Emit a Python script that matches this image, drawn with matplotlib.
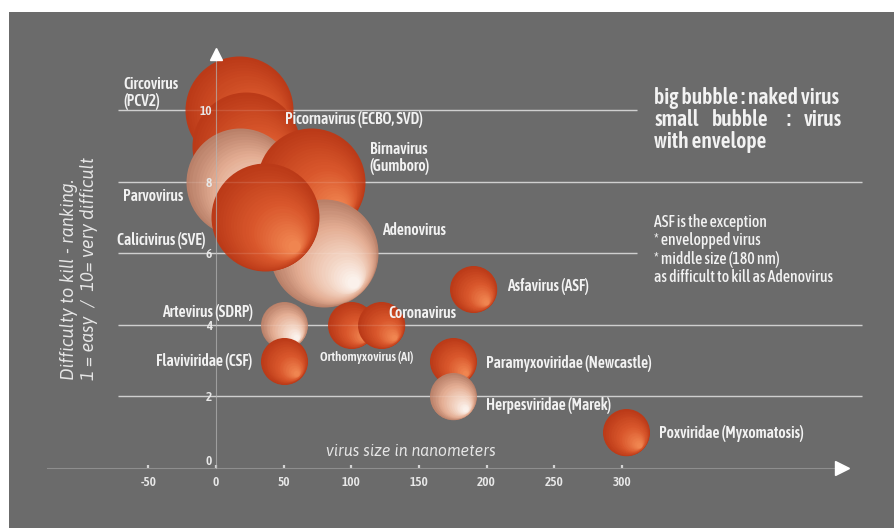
import matplotlib
matplotlib.use("Agg")
import matplotlib.pyplot as plt
import matplotlib.colors as mcolors
from matplotlib.transforms import offset_copy
import numpy as np

# data
viruses = ["Circovirus\n(PCV2)", "Picornavirus (ECBO, SVD)", "Parvovirus",
           "Birnavirus\n(Gumboro)", "Adenovirus", "Calicivirus (SVE)",
           "Asfavirus (ASF)", "Artevirus (SDRP)", "Flaviviridae (CSF)",
           "Orthomyxovirus (AI)", "Coronavirus", "Paramyxoviridae (Newcastle)",
           "Herpesviridae (Marek)", "Poxviridae (Myxomatosis)"]
size_nm = [17, 22, 18, 70, 80, 36, 190, 50, 50, 100, 122, 175, 175, 303]
difficulty = [10, 9, 8, 8, 6, 7, 5, 4, 3, 4, 4, 3, 2, 1]
naked = [True, True, True, True, True, True,
         False, False, False, False, False, False, False, False]
x_ticks = [-50, 0, 50, 100, 150, 200, 250, 300]
y_ticks = [0, 2, 4, 6, 8, 10]

# layout / style
pale = [False, False, True, False, True, False, False, True, False,
        False, False, False, True, False]
# label offset from bubble centre in pixels (dx, dy up), alignment
label_pos = [(-116, 17, "left"), (39, 26, "left"), (-117, -15, "left"),
             (59, 24, "left"), (58, 23, "left"), (-148, -23, "left"),
             (34, 2, "left"), (-31, 12, "right"), (-31, -1, "right"),
             (-31, -33, "left"), (7, 11, "left"), (33, -3, "left"),
             (33, -9, "left"), (33, -1, "left")]
BG = "#6b6b6b"
TXT = "#f2f2f2"
plt.rcParams["font.family"] = ["Asap Condensed", "DejaVu Sans"]
plt.rcParams["axes.unicode_minus"] = False
ITAL = ["Asap", "Open Sans"]

fig = plt.figure(figsize=(8.94, 5.28), dpi=100, facecolor="white")
ax = fig.add_axes([9 / 894, 0, 885 / 894, 516 / 528])
ax.set_facecolor(BG)
ax.set_xlim(-153.0, 501.1)
ax.set_ylim(-1.676, 12.737)

PX = 0.72  # points per pixel

# grid lines, behind and a faint copy on top of the bubbles
for yv in y_ticks[1:]:
    right = 311 if yv in (6, 10) else 477.5
    ax.hlines(yv, -72.4, right, color="#c9c9c9", lw=1, zorder=1)
    ax.hlines(yv, -72.4, right, color="#ffffff", lw=1, alpha=0.12, zorder=200)

# bubbles with a fake radial shading
orange = mcolors.LinearSegmentedColormap.from_list(
    "o", ["#bb3a18", "#d9572c", "#f28853"])
light = mcolors.LinearSegmentedColormap.from_list(
    "l", ["#b98069", "#e4ad93", "#f2d2c0", "#fcf5f0"])
n_layers = 28
for i, (x, y) in enumerate(zip(size_nm, difficulty)):
    r = 54 if naked[i] else 23.5
    cmap = light if pale[i] else orange
    for k in range(n_layers):
        t = k / n_layers
        rk = r * (1 - 0.92 * t)
        off = (r - rk) * 0.85 / np.sqrt(2) * PX
        tr = offset_copy(ax.transData, fig=fig, x=off, y=-off, units="points")
        ax.scatter([x], [y], s=(2 * rk * PX) ** 2, color=cmap(t), lw=0,
                   transform=tr, zorder=10 + i * 10 + k * 0.1)

# labels
for i, name in enumerate(viruses):
    dx, dy, ha = label_pos[i]
    small = name.startswith("Ortho")
    ax.annotate(name, (size_nm[i], difficulty[i]), xytext=(dx * PX, dy * PX),
                textcoords="offset points", ha=ha, va="center",
                fontsize=9.3 if small else 11.2, color=TXT, fontweight=600,
                linespacing=1.0, zorder=300)

# axes
for s in ("top", "right"):
    ax.spines[s].set_visible(False)
ax.spines["bottom"].set_position(("data", 0))
ax.spines["left"].set_position(("data", 0))
ax.spines["bottom"].set_bounds(-125, 463)
ax.spines["left"].set_bounds(0, 11.5)
ax.spines["bottom"].set_color("#8e8e8e")
ax.spines["left"].set_color("#b5b5b5")
ax.spines["left"].set_alpha(0.7)
ax.spines["left"].set_zorder(250)
ax.plot([463], [0], marker=">", ms=10, color="white", clip_on=False, zorder=260)
ax.plot([0], [11.55], marker="^", ms=9, color="white", clip_on=False, zorder=260)

ax.set_xticks(x_ticks)
ax.set_yticks(y_ticks)
ax.tick_params(axis="x", direction="in", length=2.5, width=1.6, color="#d5d5d5",
               pad=6, labelsize=9.5, labelcolor="#e8e8e8")
ax.tick_params(axis="y", length=0, pad=3, labelsize=9.5, labelcolor="#e8e8e8")
for lab in ax.get_xticklabels() + ax.get_yticklabels():
    lab.set_fontweight(600)
ax.yaxis.set_zorder(300)
ax.get_yticklabels()[0].set_va("bottom")

fig.text(79 / 894, 1 - 380 / 528,
         "Difficulty to kill - ranking.\n1 = easy  /  10= very difficult",
         rotation=90, ha="center", va="bottom", multialignment="left",
         fontsize=13, style="italic", color="#e6e6e6", linespacing=1.15,
         family=ITAL)
fig.text(411 / 894, 1 - 452 / 528, "virus size in nanometers", ha="center",
         va="center", fontsize=11.5, style="italic", color="#e6e6e6",
         family=ITAL)

# notes on the right
note_kw = dict(fontsize=15.5, color=TXT, fontweight=600, va="center")
fig.text(654 / 894, 1 - 98 / 528, "big bubble : naked virus", ha="left", **note_kw)
for word, px, ha in [("small", 654, "left"), ("bubble", 712, "left"),
                     (":", 788, "center"), ("virus", 842, "right")]:
    fig.text(px / 894, 1 - 120 / 528, word, ha=ha, **note_kw)
fig.text(654 / 894, 1 - 142 / 528, "with envelope", ha="left", **note_kw)

fig.text(654 / 894, 1 - 250 / 528,
         "ASF is the exception\n* envelopped virus\n* middle size (180 nm)\n"
         "as difficult to kill as Adenovirus",
         ha="left", va="center", fontsize=11.3, color=TXT, fontweight=500,
         linespacing=1.1)

fig.savefig("out.png", dpi=100, facecolor="white")
